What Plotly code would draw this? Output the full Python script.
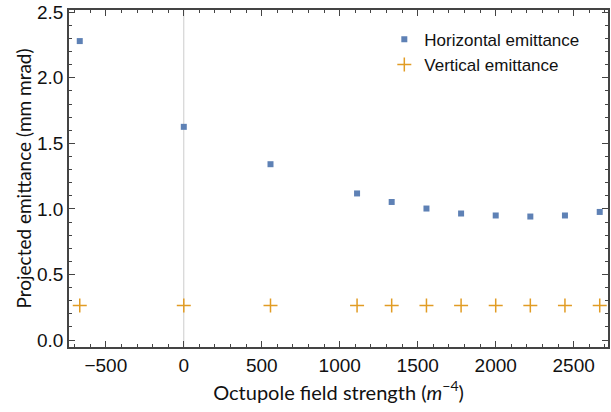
import plotly.graph_objects as go

octupole = [-667, 0, 556, 1111, 1333, 1556, 1778, 2000, 2222, 2444, 2667]
horizontal = [2.28, 1.626, 1.341, 1.118, 1.053, 1.003, 0.965, 0.95, 0.942, 0.95, 0.977]
vertical = [0.263] * 11

blue = "#5E81B5"
orange = "#E19C24"
frame = "#444444"

fig = go.Figure()
fig.add_trace(go.Scatter(x=octupole, y=horizontal, mode="markers", name="Horizontal emittance",
                         marker=dict(symbol="square", size=6, color=blue)))
fig.add_trace(go.Scatter(x=octupole, y=vertical, mode="markers", name="Vertical emittance",
                         marker=dict(symbol="cross-thin", size=10, color=orange,
                                     line=dict(color=orange, width=1.5))))

fig.add_shape(type="line", x0=0, x1=0, y0=0, y1=1, yref="paper", xref="x",
              line=dict(color="#cccccc", width=1), layer="below")

tickfont = dict(family="Liberation Sans, Arial", size=19, color="#111111")
xtitlefont = dict(family="Lato, sans-serif", size=20, color="#111111")
ytitlefont = dict(family="Lato, sans-serif", size=19, color="#111111")

fig.update_layout(
    width=611, height=412,
    margin=dict(l=69, r=1, t=10, b=65),
    paper_bgcolor="white", plot_bgcolor="white",
    showlegend=True,
    legend=dict(x=0.585, y=0.965, xanchor="left", yanchor="top",
                font=dict(family="Liberation Sans, Arial", size=17, color="#111111"),
                bgcolor="rgba(0,0,0,0)", itemwidth=30, tracegroupgap=0),
    xaxis=dict(range=[-736, 2720], showgrid=False, zeroline=False,
               showline=True, linecolor=frame, linewidth=1.5, mirror="ticks",
               ticks="inside", ticklen=6, tickcolor=frame, tickwidth=1,
               tick0=0, dtick=500, tickfont=tickfont,
               minor=dict(ticks="inside", ticklen=3, dtick=100, tickcolor=frame, showgrid=False),
               title=dict(text="Octupole field strength (<i>m</i><sup>−4</sup>)", font=xtitlefont, standoff=11)),
    yaxis=dict(range=[-0.053, 2.517], showgrid=False, zeroline=False,
               showline=True, linecolor=frame, linewidth=1.5, mirror="ticks",
               ticks="inside", ticklen=6, tickcolor=frame, tickwidth=1,
               tick0=0, dtick=0.5, tickformat=".1f", tickfont=tickfont,
               minor=dict(ticks="inside", ticklen=3, dtick=0.1, tickcolor=frame, showgrid=False),
               title=dict(text="Projected emittance (mm mrad)", font=ytitlefont, standoff=0)),
)

fig.write_html("out.html")
